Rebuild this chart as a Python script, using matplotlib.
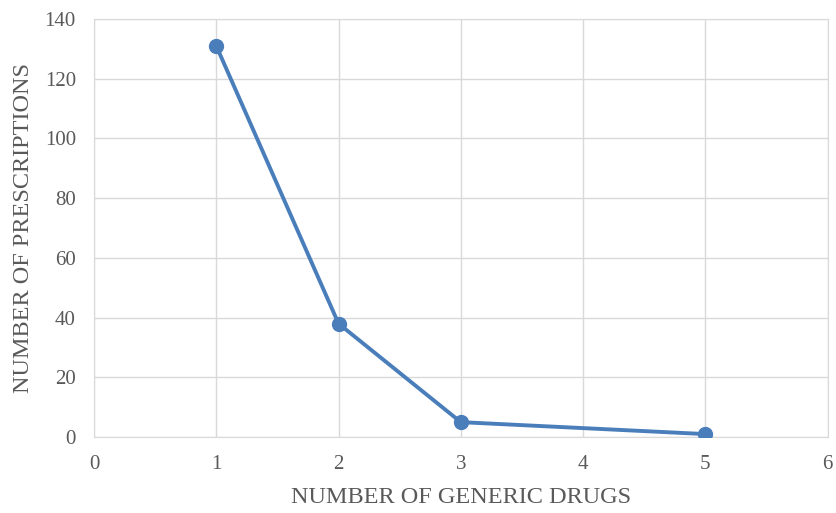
import matplotlib.pyplot as plt

# Prescriptions by number of generic drugs
generic_drugs = [1, 2, 3, 5]
prescriptions = [131, 38, 5, 1]

plt.rcParams['font.family'] = ['Liberation Serif', 'DejaVu Serif']

fig = plt.figure(figsize=(8.36, 5.13), dpi=100)
ax = fig.add_axes([0.1124, 0.148, 0.8776, 0.815])

ax.plot(generic_drugs, prescriptions, color='#4a7ebb', linewidth=2.8,
        marker='o', markersize=10, zorder=3)

ax.set_xlim(0, 6)
ax.set_ylim(0, 140)
ax.set_xticks(range(0, 7))
ax.set_yticks(range(0, 141, 20))
ax.grid(True, color='#d9d9d9', linewidth=1)
ax.set_axisbelow(True)
for s in ax.spines.values():
    s.set_color('#d9d9d9')
ax.tick_params(length=0, labelsize=15, labelcolor='#595959', pad=13)

ax.set_xlabel('NUMBER OF GENERIC DRUGS', fontsize=17.5, color='#595959', labelpad=9)
ax.set_ylabel('NUMBER OF PRESCRIPTIONS', fontsize=17.5, color='#595959', labelpad=8)

fig.savefig('out.png')
